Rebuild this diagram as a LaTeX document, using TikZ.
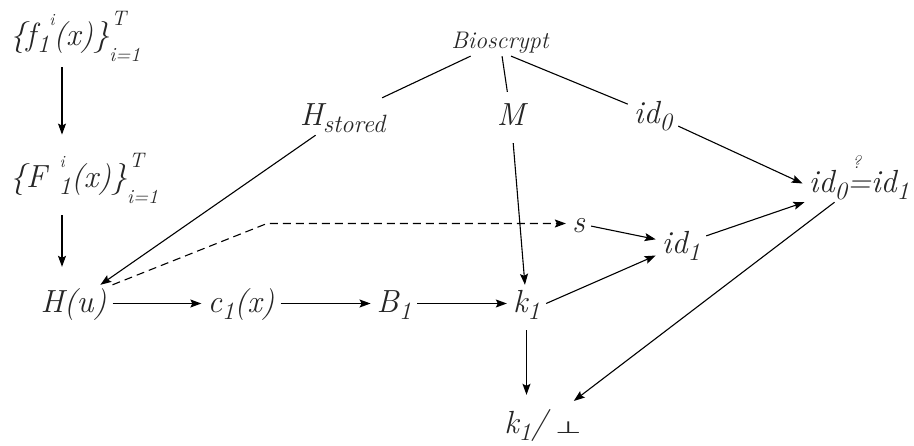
\documentclass[tikz,border=0pt]{standalone}
\usepackage{fontspec}
\usepackage{graphicx}
\newfontfamily\symf{DejaVu Sans}
\usetikzlibrary{arrows.meta}
\newcommand\lsub[1]{\raisebox{-7pt}{\fontsize{25}{25}\selectfont #1}}
\newcommand\lsup[2]{\raisebox{20pt}{\fontsize{#1}{#1}\selectfont #2}}
\tikzset{
  lblbase/.style={text=black!85, font=\rmfamily\fontsize{32}{38}\selectfont\itshape, inner xsep=6pt, inner ysep=3pt},
  lbl/.style={lblbase, anchor=base, text height=24pt, text depth=7pt},
  arr/.style={-{Stealth[length=11pt,width=8pt,inset=2pt]}, line width=1.1pt},
  ln/.style={line width=1.1pt},
  dsh/.style={arr, dash pattern=on 8pt off 5pt},
}
\begin{document}
\begin{tikzpicture}[x=1pt,y=-1pt]
\useasboundingbox (0,0) rectangle (914,445);
% nodes
\node[lblbase, anchor=base west] (f) at (4,45)
  {\{f\hspace{1pt}\lsub{1}\makebox[0pt][l]{\hspace{0pt}\lsup{17}{i}}\hspace{4pt}(x)\}\makebox[0pt][l]{\hspace{2pt}\lsup{21}{T}}\raisebox{-16pt}{\fontsize{20}{20}\selectfont i=1}};
\node[lblbase, anchor=base west] (F) at (4,187)
  {\{F\hspace{12pt}\makebox[0pt][l]{\hspace{1pt}\lsup{17}{i}}\lsub{1}(x)\}\makebox[0pt][l]{\hspace{2pt}\lsup{21}{T}}\raisebox{-16pt}{\fontsize{20}{20}\selectfont i=1}};
\node[lbl] (hu) at (73.5,312) {H(u)};
\node[lbl] (c1) at (241,312) {c\lsub{1}(x)};
\node[lbl] (b1) at (394,312) {B\lsub{1}};
\node[lbl] (k1) at (526.5,312) {k\lsub{1}};
\node[lbl] (hs) at (342.5,125) {H\lsub{stored}};
\node[lbl] (m) at (511,125) {M};
\node[lbl] (id0) at (653,123) {id\lsub{0}};
\node[lblbase, anchor=base, font=\rmfamily\fontsize{24}{28}\selectfont\itshape] (bio) at (500,48) {Bioscrypt};
\node[lbl] (s) at (578.5,232) {s};
\node[lbl] (id1) at (681,253) {id\lsub{1}};
\node[lbl] (eq) at (859,192)
  {id\lsub{0}\makebox[0pt][l]{\hspace{5pt}\smash{\raisebox{24pt}{\fontsize{18}{18}\selectfont ?}}}=id\lsub{1}};
\node[lbl] (kp) at (543,433) {k\lsub{1}/\hspace{8pt}{\upshape\symf\scalebox{0.95}[0.52]{⊥}}};
\coordinate (col) at (62,0);
\coordinate (bend) at (267,223.5);
% connectors
\draw[arr, shorten <=3pt, shorten >=15pt] (f.south -| col) -- (F.north -| col);
\draw[arr, shorten <=9pt, shorten >=18pt] (F.south -| col) -- (hu.north -| col);
\draw[ln] (bio) -- (hs);
\draw[ln, shorten >=6pt] (bio) -- (m);
\draw[ln] ([xshift=11pt]bio.south) -- (id0);
\draw[arr] (hs) -- (hu);
\draw[arr, shorten <=8pt] (m) -- (k1);
\draw[arr] (hu) -- (c1);
\draw[arr] (c1) -- (b1);
\draw[arr] (b1) -- (k1);
\draw[dsh] (hu.north east) -- (bend) -- (bend -| s.west);
\draw[arr] (s) -- (id1);
\draw[arr] (k1.east) -- (id1);
\draw[arr] (id1) -- (eq);
\draw[arr] (id0) -- (eq.west);
\draw[arr, shorten >=8pt] (eq) -- (kp);
\draw[arr, shorten <=8pt, shorten >=11pt] (k1.south) -- (kp.north -| k1.south);
\end{tikzpicture}
\end{document}
